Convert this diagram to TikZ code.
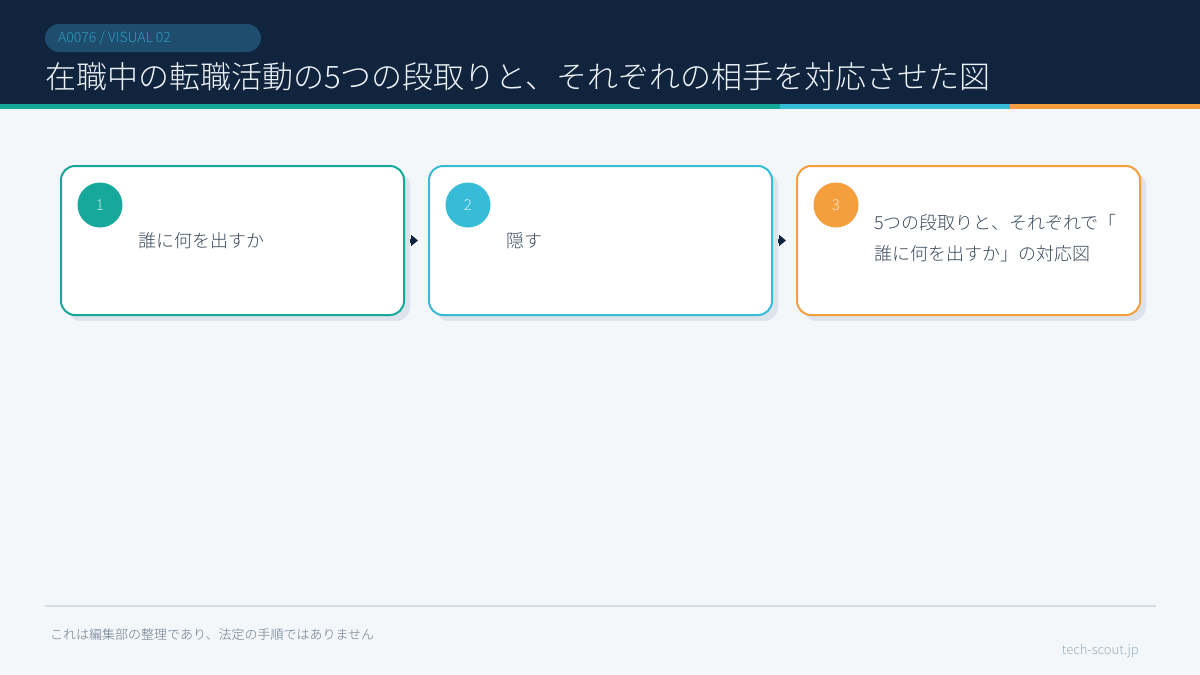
\documentclass[tikz,border=0pt]{standalone}
\usepackage{fontspec}
\setmainfont{Noto Sans CJK JP}[UprightFont={* Light}]
\usepackage{tikz}
\usetikzlibrary{positioning}
\usetikzlibrary{arrows.meta}
\usetikzlibrary{calc}
\definecolor{cbg}{HTML}{F3F7FA}
\definecolor{cnavy}{HTML}{10243E}
\definecolor{cpill}{HTML}{1F4D6E}
\definecolor{ctag}{HTML}{2C9CC0}
\definecolor{ctitle}{HTML}{EEF3F8}
\definecolor{cteal}{HTML}{16A89A}
\definecolor{ccyan}{HTML}{36BCD6}
\definecolor{corange}{HTML}{F59E3D}
\definecolor{cshadow}{HTML}{DCE3EA}
\definecolor{ctext}{HTML}{3A4A5C}
\definecolor{cline}{HTML}{D5DEE5}
\definecolor{cfoot}{HTML}{6B7B8C}
\definecolor{csite}{HTML}{9AB0C0}
\begin{document}
\begin{tikzpicture}[x=1pt,y=-1pt,
    stepcard/.style={draw=#1,line width=2pt,fill=white,rounded corners=14pt,
      minimum width=343pt,minimum height=149pt,inner sep=0pt},
    cardshadow/.style={fill=cshadow,rounded corners=14pt,
      minimum width=343pt,minimum height=149pt,inner sep=0pt},
    numdot/.style={circle,fill=#1,minimum size=45pt,inner sep=0pt,
      text=white!75!#1,font=\fontsize{15}{15}\selectfont},
    cardtext/.style={anchor=west,text=ctext,align=left,inner sep=0pt,
      font=\fontsize{18}{31}\selectfont},
    flowarrow/.style={-{Triangle[length=7pt,width=11pt]},line width=4pt,
      draw=cnavy,shorten <=5pt,shorten >=10pt}]
    % page and header
    \fill[cbg] (0,0) rectangle (1200,675);
    \useasboundingbox (0,0) rectangle (1200,675);
    \fill[cnavy] (0,0) rectangle (1200,104);
    \fill[cteal]   (0,104)    rectangle (780,109);
    \fill[ccyan]   (780,104)  rectangle (1010,109);
    \fill[corange] (1010,104) rectangle (1200,109);
    % tag and title
    \fill[cpill,rounded corners=14pt] (45,24) rectangle (261,52);
    \node[anchor=west,inner sep=0pt,text=ctag,font=\fontsize{14}{14}\selectfont]
      (ntag) at (58,38) {A0076 / VISUAL 02};
    \node[anchor=west,inner sep=0pt,text=ctitle,font=\fontsize{31}{31}\selectfont]
      (ntitle) at (45,77) {在職中の転職活動の5つの段取りと、それぞれの相手を対応させた図};
    % step cards
    \foreach \i/\x/\c in {1/232.5/cteal,2/600.5/ccyan,3/968.5/corange}{
      \node[cardshadow] at (\x+6,246.5) {};
      \node[stepcard=\c] (ncard\i) at (\x,240.5) {};
      \node[numdot=\c] (nnum\i) at ($(ncard\i.north west)+(40,40)$) {\i};
    }
    \node[cardtext] (ntext1) at ($(ncard1.west)+(78,0)$) {誰に何を出すか};
    \node[cardtext] (ntext2) at ($(ncard2.west)+(78,0)$) {隠す};
    \node[cardtext] (ntext3) at ($(ncard3.west)+(78,-2)$)
      {5つの段取りと、それぞれで「\\誰に何を出すか」の対応図};
    % arrows between cards
    \draw[flowarrow] (ncard1.east) -- (ncard2.west);
    \draw[flowarrow] (ncard2.east) -- (ncard3.west);
    % footer
    \draw[cline,line width=2pt] (45,606) -- (1156,606);
    \node[anchor=west,inner sep=0pt,text=cfoot,font=\fontsize{13}{13}\selectfont]
      (nnote) at (50,635) {これは編集部の整理であり、法定の手順ではありません};
    \node[anchor=east,inner sep=0pt,text=csite,font=\fontsize{13}{13}\selectfont]
      (nsite) at (1139,651) {tech-scout.jp};
\end{tikzpicture}
\end{document}
